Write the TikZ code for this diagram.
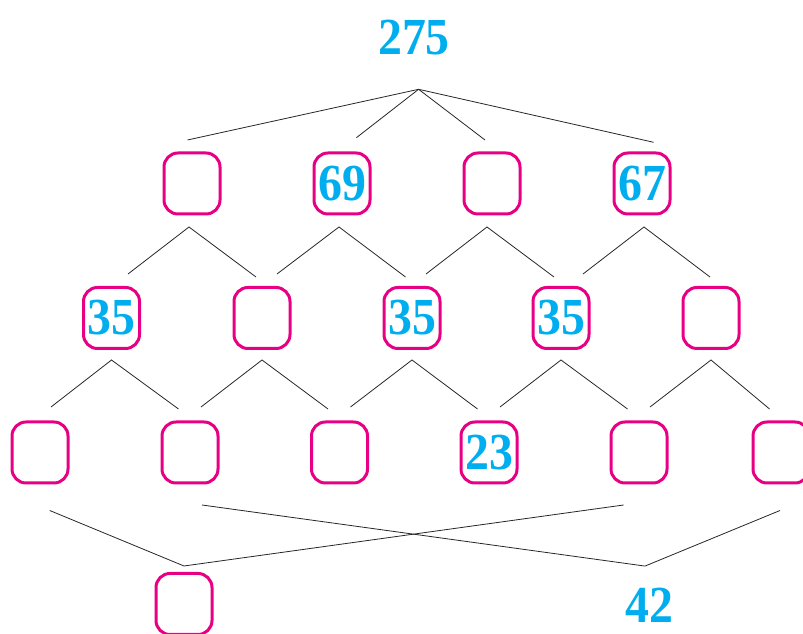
\documentclass[tikz,border=0pt]{standalone}
\usepackage{fontspec}
\setmainfont{Liberation Serif}
\newfontfamily\digitfamily[FakeStretch=0.92]{Liberation Serif}
\usepackage{xcolor}
\definecolor{numcyan}{RGB}{0,174,239}
\definecolor{boxpink}{RGB}{232,0,132}

\begin{document}
\begin{tikzpicture}[x=1pt,y=1pt,
	numbox/.style={draw=boxpink, line width=3pt, rounded corners=14pt, minimum width=56pt, minimum height=61pt, inner sep=0pt, text=numcyan, font=\numfont},
	numtext/.style={text=numcyan, font=\numfont, inner sep=0pt},
	link/.style={line width=0.8pt, black!85}]
	\newcommand{\numfont}{\digitfamily\bfseries\fontsize{52}{52}\selectfont}
	\useasboundingbox (0,0) rectangle (803,634);
	\node[numtext] (total) at (414,596) {275};
	\coordinate (split) at (418.6,544.7);
	\foreach \x/\name/\val in {192/p1/{}, 342/p2/69, 492/p3/{}, 642/p4/67}
	{
		\node[numbox] (\name) at (\x,450.5) {\val};
	}
	\foreach \x/\name/\val in {111.5/q1/35, 262/q2/{}, 412/q3/35, 561/q4/35, 711/q5/{}}
	{
		\node[numbox] (\name) at (\x,316) {\val};
	}
	\foreach \x/\name/\val in {40/s1/{}, 190/s2/{}, 339.5/s3/{}, 489/s4/23, 639/s5/{}, 781/s6/{}}
	{
		\node[numbox] (\name) at (\x,181.5) {\val};
	}
	\node[numbox] (last) at (184,30) {};
	\node[numtext] (rest) at (649,29) {42};
	\foreach \n/\dx/\dy in {p1/-4.5/11.5, p2/14.4/13.8, p3/-7/11.5, p4/11.6/9.2}
	{
		\draw[link] (split) -- ([shift={(\dx pt,\dy pt)}]\n.north);
	}
	\foreach \p/\l/\r/\adx/\ldx/\rdx in {p1/q1/q2/-3/16.5/-6, p2/q2/q3/-3/15/-6.5, p3/q3/q4/-5/14/-7, p4/q4/q5/2/22/-1}
	{
		\draw[link] ([shift={(\ldx pt,12pt)}]\l.north) -- ([shift={(\adx pt,-11.5pt)}]\p.south) -- ([shift={(\rdx pt,9pt)}]\r.north);
	}
	\foreach \p/\l/\r in {q1/s1/s2, q2/s2/s3, q3/s3/s4, q4/s4/s5, q5/s5/s6}
	{
		\draw[link] ([shift={(11pt,13.5pt)}]\l.north) -- ([yshift=-10pt]\p.south) -- ([shift={(-11.5pt,11.5pt)}]\r.north);
	}
	\coordinate (joinL) at ([yshift=6pt]last.north);
	\coordinate (joinR) at ([shift={(-4pt,21.5pt)}]rest.north);
	\draw[link] ([shift={(9.7pt,-26pt)}]s1.south) -- (joinL) -- ([shift={(-15.4pt,-20.5pt)}]s5.south);
	\draw[link] ([shift={(12pt,-20.5pt)}]s2.south) -- (joinR) -- ([shift={(-1pt,-26pt)}]s6.south);
\end{tikzpicture}
\end{document}
